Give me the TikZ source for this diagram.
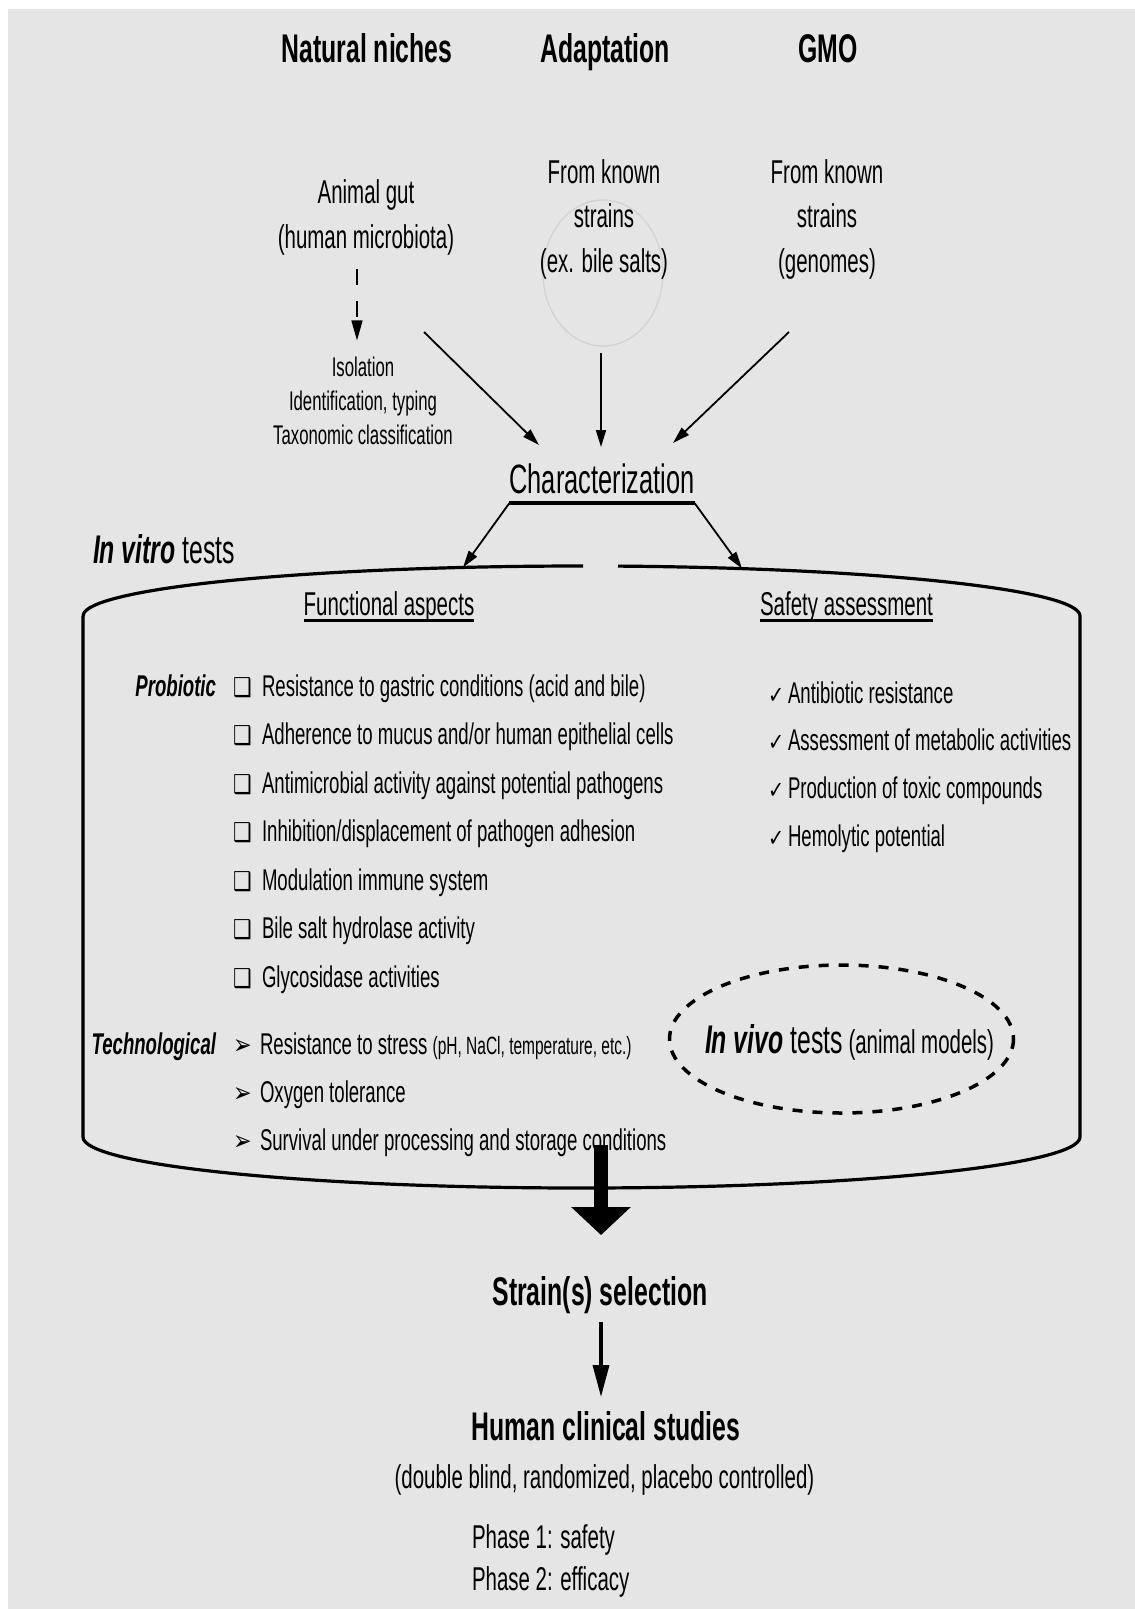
\documentclass[tikz,border=0pt]{standalone}
\usepackage{fontspec}
\setmainfont{Liberation Sans}[FakeStretch=0.62]
\newfontfamily\symf{DejaVu Sans}[FakeStretch=0.8]
\usetikzlibrary{arrows.meta,calc}
\definecolor{bg}{RGB}{229,229,229}
\newcommand\fsz[2]{\fontsize{#1}{#2}\selectfont}
\newcommand\bx{\makebox[29pt][l]{\symf\fsz{26}{26}❑}}
\newcommand\ar{\makebox[27pt][l]{\symf\fsz{28}{28}➢}}
\newcommand\ck{\makebox[20pt][l]{\symf\fsz{24}{24}✓}}
\begin{document}
\begin{tikzpicture}[x=1pt,y=-1pt,
  every node/.style={inner sep=0pt,outer sep=0pt},
  title/.style={font=\fsz{40}{48}\bfseries,anchor=base},
  src/.style={font=\fsz{33}{44.5},align=center,anchor=base},
  iso/.style={font=\fsz{27}{34},align=center,anchor=base},
  head/.style={font=\fsz{33}{40},anchor=base},
  item/.style={font=\fsz{30}{36},anchor=base west},
  cat/.style={font=\fsz{30}{36}\bfseries\itshape,anchor=base east},
  thin arrow/.style={line width=1.8pt,-{Triangle[length=17pt,width=10pt]}},
  frame/.style={line width=3.2pt},
  uline/.style={line width=3pt}]
\useasboundingbox (0,0) rectangle (1135,1609);
\fill[white] (0,0) rectangle (1135,1609);
\fill[bg] (8,9) rectangle (1135,1609);

% faint mark
\draw[gray!35,line width=1.2pt] (603,273) ellipse[x radius=60,y radius=73];

% titles
\node[title] (nn) at (367,62) {Natural niches};
\node[title] (ad) at (605,62) {Adaptation};
\node[title] (gmo) at (828,62) {GMO};

% sources (base anchor = last line)
\node[src] (gut) at (366,248) {Animal gut\\(human microbiota)};
\node[src] (bile) at (604,272) {From known\\strains\\(ex. bile salts)};
\node[src] (gen) at (827,272) {From known\\strains\\(genomes)};
\node[iso] (isol) at (363,444) {Isolation\\Identification, typing\\Taxonomic classification};

\coordinate (ax) at (357,0);
\draw[line width=1.6pt,dash pattern=on 16pt off 16pt,-{Triangle[length=20pt,width=11pt]},shorten <=14pt,shorten >=16pt]
  (gut.south -| ax) -- (isol.north -| ax);

% characterization
\node[font=\fsz{41}{48},anchor=base] (char) at (602,493) {Characterization};
\coordinate (ul) at ([yshift=-10pt]char.base west);
\coordinate (ur) at ([yshift=-10pt]char.base east);
\draw[line width=4pt] (ul) -- (ur);

\coordinate (s1) at (424,332);
\coordinate (s2) at (601,353);
\coordinate (s3) at (789,332);
\coordinate (e1) at (539,445);
\coordinate (e2) at (601,447);
\coordinate (e3) at (673,443);
\draw[thin arrow] (s1) -- (e1);
\draw[thin arrow] (s2) -- (e2);
\draw[thin arrow] (s3) -- (e3);

% in vitro label
\node[font=\fsz{40}{48},anchor=base west] (vitro) at (93,563) {\textbf{\textit{In vitro}} tests};

% container
\draw[frame] (83,616) arc[start angle=180,end angle=270.2,x radius=498.5,y radius=50];
\draw[frame] (618,566.1) arc[start angle=274.2,end angle=360,x radius=498.5,y radius=50]
   -- (1080,1137) arc[start angle=0,end angle=180,x radius=498.5,y radius=51] -- (83,616);

\coordinate (fa) at (463,567.4);
\coordinate (sa) at (742,568.5);
\draw[thin arrow] (ul) -- (fa);
\draw[thin arrow] (ur) -- (sa);

% headers
\node[head] (func) at (389,615) {Functional aspects};
\node[head] (safe) at (846.5,615) {Safety assessment};
\draw[uline] ([yshift=-5pt]func.base west) -- ([yshift=-5pt]func.base east);
\draw[uline] ([yshift=-5pt]safe.base west) -- ([yshift=-5pt]safe.base east);

% probiotic
\node[cat] (prob) at (216,696) {Probiotic};
\node[item] (p1) at (233,696) {\bx Resistance to gastric conditions (acid and bile)};
\node[item] (p2) at (233,744.5) {\bx Adherence to mucus and/or human epithelial cells};
\node[item] (p3) at (233,793) {\bx Antimicrobial activity against potential pathogens};
\node[item] (p4) at (233,841.5) {\bx Inhibition/displacement of pathogen adhesion};
\node[item] (p5) at (233,890) {\bx Modulation immune system};
\node[item] (p6) at (233,938.5) {\bx Bile salt hydrolase activity};
\node[item] (p7) at (233,987) {\bx Glycosidase activities};

% technological
\node[cat] (tech) at (216,1054) {Technological};
\node[item] (t1) at (233,1054) {\ar Resistance to stress {\fsz{25}{30}(pH, NaCl, temperature, etc.)}};
\node[item] (t2) at (233,1102) {\ar Oxygen tolerance};
\node[item] (t3) at (233,1150) {\ar Survival under processing and storage conditions};

% safety
\node[item] (c1) at (768,703) {\ck Antibiotic resistance};
\node[item] (c2) at (768,750.5) {\ck Assessment of metabolic activities};
\node[item] (c3) at (768,798.5) {\ck Production of toxic compounds};
\node[item] (c4) at (768,846.5) {\ck Hemolytic potential};

% in vivo
\draw[line width=3.5pt,dash pattern=on 10pt off 10pt] (841.5,1039) ellipse[x radius=172,y radius=74];
\node[anchor=base west,font=\fsz{40}{48}] (vivo) at (705,1053) {\textbf{\textit{In vivo}} tests\fsz{33}{40} (animal models)};

% selection
\node[title] (strain) at (600,1305) {Strain(s) selection};
\coordinate (bigtop) at (601,1145);
\draw[line width=14pt,-{Triangle[length=28pt,width=58pt]},shorten >=41pt] (bigtop) -- (strain.north -| bigtop);

\node[title] (human) at (606,1440) {Human clinical studies};
\draw[line width=3.5pt,-{Triangle[length=32pt,width=16pt]},shorten <=9pt,shorten >=14pt] (strain.south -| bigtop) -- (human.north -| bigtop);
\node[font=\fsz{33}{40},anchor=base] (dbl) at (604.5,1488) {(double blind, randomized, placebo controlled)};
\node[font=\fsz{33}{42},align=left,anchor=base west] (phase) at (472,1590) {Phase 1: safety\\Phase 2: efficacy};
\end{tikzpicture}
\end{document}
